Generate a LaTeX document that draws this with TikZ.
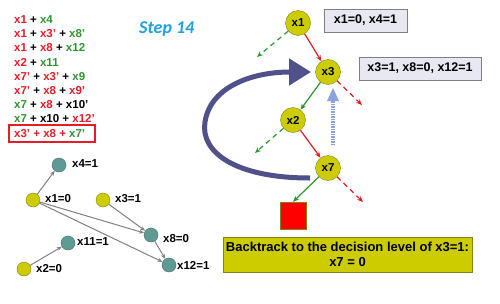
\documentclass[tikz,border=0pt]{standalone}
\usepackage{fontspec}
\setmainfont{Liberation Sans}
\newfontfamily\stepfont{Carlito}
\usetikzlibrary{arrows.meta}

\definecolor{litred}{RGB}{232,28,36}
\definecolor{litgreen}{RGB}{46,150,46}
\definecolor{olive}{RGB}{204,204,0}
\definecolor{olivedark}{RGB}{130,130,20}
\definecolor{tealnode}{RGB}{95,155,148}
\definecolor{tealdark}{RGB}{70,110,105}
\definecolor{boxfill}{RGB}{232,232,242}
\definecolor{bigarrow}{RGB}{80,80,138}
\definecolor{liteblue}{RGB}{140,162,222}
\definecolor{stepblue}{RGB}{30,160,225}

\newcommand{\R}[1]{\textcolor{litred}{#1}}
\newcommand{\G}[1]{\textcolor{litgreen}{#1}}

\tikzset{
  txt/.style={font=\bfseries\fontsize{11.5}{14}\selectfont, inner sep=0pt},
  clause/.style={txt, anchor=west},
  dec/.style={circle, draw=olivedark, fill=olive, minimum size=25pt, inner sep=0pt, txt},
  imp/.style={circle, draw=tealdark, fill=tealnode, minimum size=14pt, inner sep=0pt},
  impy/.style={circle, draw=olivedark, fill=olive, minimum size=14pt, inner sep=0pt},
  lbl/.style={txt, anchor=west},
  infobox/.style={draw=gray, fill=boxfill, font=\bfseries\fontsize{12.5}{15}\selectfont, inner sep=0pt},
  solidedge/.style={-{Stealth[length=6pt,width=5pt]}, line width=1.2pt},
  dashedge/.style={-{Stealth[length=6pt,width=5pt]}, line width=1.2pt, dash pattern=on 5pt off 4pt},
  impl/.style={-{Stealth[length=5pt,width=4pt]}, draw=gray, line width=1pt}
}

\begin{document}
\begin{tikzpicture}[x=1pt,y=-1pt]
    \useasboundingbox (0,0) rectangle (500,303);

    % Clauses
    \node[clause] (c1) at (14,20) {\R{x1} + \G{x4}};
    \node[clause] (c2) at (14,34) {\R{x1} + \R{x3'} + \G{x8'}};
    \node[clause] (c3) at (14,48) {\R{x1} + \R{x8} + \G{x12}};
    \node[clause] (c4) at (14,62) {\R{x2} + \G{x11}};
    \node[clause] (c5) at (14,77) {\R{x7'} + \R{x3'} + \G{x9}};
    \node[clause] (c6) at (14,91) {\R{x7'} + \R{x8} + \R{x9'}};
    \node[clause] (c7) at (14,105) {\G{x7} + \R{x8} + x10'};
    \node[clause] (c8) at (14,119) {\G{x7} + x10 + \R{x12'}};
    \node[clause] (c9) at (14,134) {\R{x3' + x8 +} \G{x7'}};
    \draw[litred, line width=1.3pt] (9,125) rectangle (95,142);

    \node[anchor=west, inner sep=0pt, text=stepblue, font=\stepfont\bfseries\itshape\fontsize{18}{21}\selectfont] (step) at (139,29) {Step 14};

    % Decision tree
    \node[dec] (x1) at (298,23) {x1};
    \node[dec] (x3) at (328,72) {x3};
    \node[dec] (x2) at (293,120) {x2};
    \node[dec] (x7) at (328,168) {x7};
    \node[draw=olivedark, fill=red, minimum width=26pt, minimum height=27pt, inner sep=0pt] (confl) at (293,215.5) {};

    \coordinate (d1) at (257,57);
    \coordinate (d3) at (362,105);
    \coordinate (d2) at (255,153);
    \coordinate (d7) at (363,202);

    \draw[solidedge, litred] (x1) -- (x3);
    \draw[solidedge, litgreen] (x3) -- (x2);
    \draw[solidedge, litred] (x2) -- (x7);
    \draw[solidedge, litgreen] (x7) -- (confl.north);
    \draw[dashedge, litgreen] (x1) -- (d1);
    \draw[dashedge, litred] (x3) -- (d3);
    \draw[dashedge, litgreen] (x2) -- (d2);
    \draw[dashedge, litred] (x7) -- (d7);

    % Assignment boxes
    \node[infobox, minimum width=83pt, minimum height=23pt] (b1) at (365.5,20.5) {x1=0, x4=1};
    \node[infobox, minimum width=122pt, minimum height=23pt] (b3) at (420,68.5) {x3=1, x8=0, x12=1};
    \node[draw=olivedark, fill=olive, minimum width=249pt, minimum height=35pt, inner sep=0pt, align=center, font=\bfseries\fontsize{13}{15}\selectfont] (back) at (347.5,254.5) {Backtrack to the decision level of x3=1:\\x7 = 0};

    % Backtrack arrows
    \coordinate (tailb) at (310,178);
    \draw[bigarrow, line width=5pt, -{Triangle[length=22pt,width=26pt]}] (tailb) .. controls (235,178) and (200,152) .. (205,122) .. controls (210,88) and (250,72) .. (311,72);
    \coordinate (upbot) at (333,145);
    \coordinate (uptop) at (333,88);
    \draw[liteblue, line width=4pt, dash pattern=on 1.5pt off 1pt] (upbot) -- (333,100);
    \fill[liteblue] (uptop) -- (327,101) -- (339,101) -- cycle;

    % Implication graph
    \node[imp] (n4) at (59,165) {};
    \node[impy] (n1) at (33,200) {};
    \node[impy] (n3) at (103,200) {};
    \node[imp] (n8) at (151,235) {};
    \node[imp] (n11) at (68,243) {};
    \node[impy] (n2) at (24,269) {};
    \node[imp] (n12) at (169,265) {};

    \node[lbl] at (72,164) {x4=1};
    \node[lbl] at (45,199) {x1=0};
    \node[lbl] at (115,199) {x3=1};
    \node[lbl] at (163,239) {x8=0};
    \node[lbl] at (77,242) {x11=1};
    \node[lbl] at (36,269) {x2=0};
    \node[lbl] at (177,265) {x12=1};

    \draw[impl] (n1) -- (n4);
    \draw[impl] (n1) -- (n8);
    \draw[impl] (n1) -- (n12);
    \draw[impl] (n3) -- (n8);
    \draw[impl] (n8) -- (n12);
    \draw[impl] (n2) -- (n11);
\end{tikzpicture}
\end{document}
